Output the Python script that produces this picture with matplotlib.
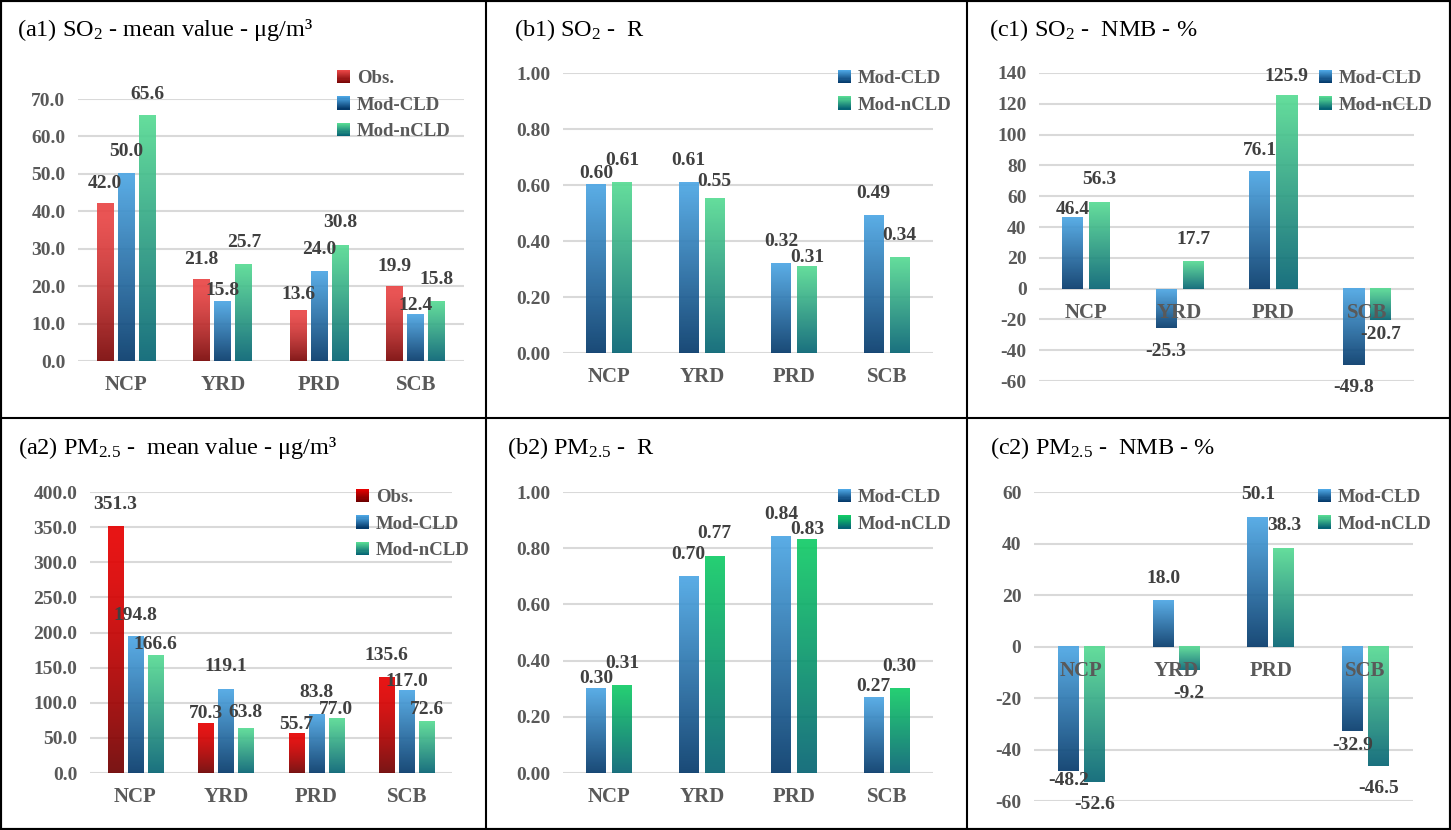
import matplotlib
matplotlib.use('Agg')
import matplotlib.pyplot as plt
import numpy as np
from matplotlib.colors import to_rgb
from matplotlib.legend_handler import HandlerBase
from matplotlib.patches import Rectangle
from matplotlib.lines import Line2D

plt.rcParams['font.family'] = ['Liberation Serif', 'DejaVu Serif']
plt.rcParams['mathtext.fontset'] = 'custom'
plt.rcParams['mathtext.rm'] = 'Liberation Serif'
plt.rcParams['mathtext.it'] = 'Liberation Serif:italic'
plt.rcParams['mathtext.bf'] = 'Liberation Serif:bold'

# data
regions = ['NCP', 'YRD', 'PRD', 'SCB']

so2_obs = [42.0, 21.8, 13.6, 19.9]
so2_cld = [50.0, 15.8, 24.0, 12.4]
so2_ncld = [65.6, 25.7, 30.8, 15.8]

pm_obs = [351.3, 70.3, 55.7, 135.6]
pm_cld = [194.8, 119.1, 83.8, 117.0]
pm_ncld = [166.6, 63.8, 77.0, 72.6]

so2_r_cld = [0.60, 0.61, 0.32, 0.49]
so2_r_ncld = [0.61, 0.55, 0.31, 0.34]
pm_r_cld = [0.30, 0.70, 0.84, 0.27]
pm_r_ncld = [0.31, 0.77, 0.83, 0.30]

so2_nmb_cld = [46.4, -25.3, 76.1, -49.8]
so2_nmb_ncld = [56.3, 17.7, 125.9, -20.7]
pm_nmb_cld = [-48.2, 18.0, 50.1, -32.9]
pm_nmb_ncld = [-52.6, -9.2, 38.3, -46.5]

# label distance from bar end, in pixels (labels were nudged by hand in the original)
off_a1 = [[20, 20, 16, 20], [22, 11, 22, 9], [21, 22, 23, 22]]
off_b1 = [[11, 22, 22, 22], [22, 18, 9, 22]]
off_c1 = [[8, 24, 21, 22], [22, 22, 18, 14]]
off_a2 = [[22, 10, 9, 22], [21, 23, 22, 9], [11, 16, 9, 12]]
off_b2 = [[10, 22, 22, 11], [22, 23, 10, 22]]
off_c2 = [[10, 22, 23, 14], [23, 23, 22, 22]]

# gradient colours (top, bottom)
RED1 = ('#EA4646', '#7A0606')
RED2 = ('#E60000', '#6E0000')
BLUE = ('#4CA6E4', '#053A6B')
GREEN1 = ('#57DB93', '#066474')
GREEN2 = ('#12CC66', '#066474')

TICK_C = '#595959'
LAB_C = '#404040'

W, H = 1451, 830


def grad_img(top, bottom, n=128, gamma=1.0):
    f = np.linspace(0, 1, n)[:, None, None] ** gamma
    return (1 - f) * np.array(to_rgb(top)) + f * np.array(to_rgb(bottom))


class GradHandler(HandlerBase):
    def __init__(self, top, bottom):
        super().__init__()
        self.top, self.bottom = top, bottom

    def create_artists(self, legend, orig_handle, xdescent, ydescent,
                       width, height, fontsize, trans):
        n = 12
        t, b = np.array(to_rgb(self.top)), np.array(to_rgb(self.bottom))
        arts = []
        for k in range(n):
            f = k / (n - 1)
            col = (1 - f) * t + f * b
            y = -ydescent + height * (1 - (k + 1) / n)
            arts.append(Rectangle((-xdescent, y), width, height / n + 0.2,
                                  facecolor=col, edgecolor='none', transform=trans))
        return arts


def px_rect(x0, x1, ytop, ybot):
    return [x0 / W, 1 - ybot / H, (x1 - x0) / W, (ybot - ytop) / H]


def panel(fig, rect, title, title_xy, series, offs, ylim, yticks, fmt, tfmt,
          step, width, legend_xy):
    ax = fig.add_axes(rect)
    n = len(series)
    x = np.arange(len(regions))
    offsets = (np.arange(n) - (n - 1) / 2) * step
    handles, hmap = [], {}
    for (vals, label, cols), off, loff in zip(series, offsets, offs):
        bars = ax.bar(x + off, vals, width, color='none', label=label)
        # red bars keep their light tone longer before darkening
        img = grad_img(*cols, gamma=1.5 if cols[0] in (RED1[0], RED2[0]) else 1.0)
        for b, v, d in zip(bars, vals, loff):
            bx, by, bw, bh = b.get_x(), b.get_y(), b.get_width(), b.get_height()
            ax.imshow(img, extent=[bx, bx + bw, min(by, by + bh), max(by, by + bh)],
                      origin='upper', aspect='auto', zorder=2, alpha=0.92,
                      interpolation='bilinear')
            dy = d * 0.72 if v >= 0 else -d * 0.72
            ax.annotate(fmt.format(v), (bx + bw / 2, v), xytext=(0, dy),
                        textcoords='offset points', ha='center', va='center',
                        fontsize=14, fontweight='bold', color=LAB_C,
                        annotation_clip=False, zorder=5)
        h = Rectangle((0, 0), 1, 1)
        handles.append(h)
        hmap[h] = GradHandler(*cols)

    # category names sit just under the zero line, drawn over the bars
    for i, reg in enumerate(regions):
        ax.annotate(reg, (i, 0), xytext=(0, -17.5), textcoords='offset points',
                    ha='center', va='center', fontsize=15, fontweight='bold',
                    color=TICK_C, annotation_clip=False, zorder=6)

    ax.set_xlim(-0.5, len(regions) - 0.5)
    ax.set_ylim(*ylim)
    ax.set_yticks(yticks)
    ax.set_yticklabels([tfmt.format(t) for t in yticks])
    ax.set_xticks([])
    ax.yaxis.grid(True, color='#D9D9D9', linewidth=1.5)
    ax.set_axisbelow(True)
    for s in ax.spines.values():
        s.set_visible(False)
    ax.tick_params(axis='y', length=0, labelsize=14, labelcolor=TICK_C, pad=9)
    for lab in ax.get_yticklabels():
        lab.set_fontweight('bold')

    ax.legend(handles, [s[1] for s in series], handler_map=hmap,
              loc='upper left', bbox_to_anchor=(legend_xy[0] / W, 1 - legend_xy[1] / H),
              bbox_transform=fig.transFigure, frameon=False,
              handlelength=0.7, handleheight=0.7, handletextpad=0.35,
              labelspacing=0.5, borderpad=0, borderaxespad=0,
              prop={'weight': 'bold', 'size': 13.5})
    for t in ax.get_legend().get_texts():
        t.set_color(TICK_C)

    fig.text(title_xy[0] / W, 1 - title_xy[1] / H, title, fontsize=17.5,
             ha='left', va='center', color='black')
    return ax


fig = plt.figure(figsize=(W / 100, H / 100), dpi=100)

panel(fig, px_rect(78, 464, 99, 361), r'(a1) SO$_2$ - mean value - μg/m³', (17, 30),
      [(so2_obs, 'Obs.', RED1), (so2_cld, 'Mod-CLD', BLUE), (so2_ncld, 'Mod-nCLD', GREEN1)],
      off_a1, (0, 70), np.arange(0, 71, 10), '{:.1f}', '{:.1f}', 0.218, 0.176, (337, 70))

panel(fig, px_rect(563, 933, 73, 353), r'(b1) SO$_2$ -  R', (514, 30),
      [(so2_r_cld, 'Mod-CLD', BLUE), (so2_r_ncld, 'Mod-nCLD', GREEN1)],
      off_b1, (0, 1.0), np.arange(0, 1.01, 0.2), '{:.2f}', '{:.2f}', 0.28, 0.216, (838, 70))

panel(fig, px_rect(1039, 1414, 73, 381), r'(c1) SO$_2$ -  NMB - %', (989, 30),
      [(so2_nmb_cld, 'Mod-CLD', BLUE), (so2_nmb_ncld, 'Mod-nCLD', GREEN1)],
      off_c1, (-60, 140), np.arange(-60, 141, 20), '{:.1f}', '{:.0f}', 0.288, 0.224, (1319, 70))

panel(fig, px_rect(90, 452, 492, 773), r'(a2) PM$_{2.5}$ -  mean value - μg/m³', (18, 448),
      [(pm_obs, 'Obs.', RED2), (pm_cld, 'Mod-CLD', BLUE), (pm_ncld, 'Mod-nCLD', GREEN1)],
      off_a2, (0, 400), np.arange(0, 401, 50), '{:.1f}', '{:.1f}', 0.22, 0.166, (356, 489))

panel(fig, px_rect(563, 933, 492, 773), r'(b2) PM$_{2.5}$ -  R', (507, 448),
      [(pm_r_cld, 'Mod-CLD', BLUE), (pm_r_ncld, 'Mod-nCLD', GREEN2)],
      off_b2, (0, 1.0), np.arange(0, 1.01, 0.2), '{:.2f}', '{:.2f}', 0.28, 0.216, (838, 489))

panel(fig, px_rect(1034, 1413, 492, 801), r'(c2) PM$_{2.5}$ -  NMB - %', (990, 448),
      [(pm_nmb_cld, 'Mod-CLD', BLUE), (pm_nmb_ncld, 'Mod-nCLD', GREEN1)],
      off_c2, (-60, 60), np.arange(-60, 61, 20), '{:.1f}', '{:.0f}', 0.275, 0.22, (1318, 489))

# panel frame lines
for xv in (486, 967):
    fig.add_artist(Line2D([xv / W, xv / W], [0, 1], color='black', lw=1.5,
                          transform=fig.transFigure))
fig.add_artist(Line2D([0, 1], [1 - 418 / H, 1 - 418 / H], color='black', lw=1.5,
                      transform=fig.transFigure))
fig.add_artist(Rectangle((0, 0), 1, 1, fill=False, edgecolor='black', lw=3,
                         transform=fig.transFigure))

fig.savefig('out.png', dpi=100)
